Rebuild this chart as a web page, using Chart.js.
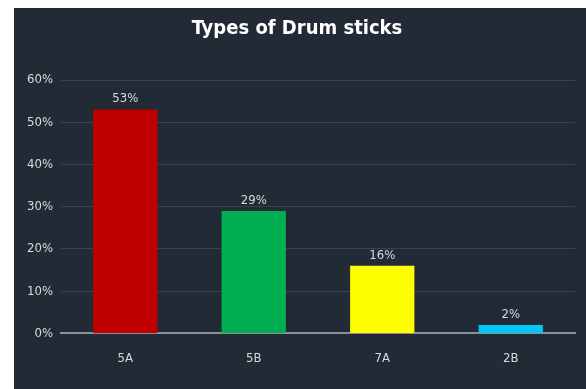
<!DOCTYPE html>
<html>
<head>
<meta charset="utf-8">
<script src="https://cdn.jsdelivr.net/npm/chart.js@4"></script>
<style>
  html, body { margin: 0; padding: 0; background: #ffffff; }
  #wrap {
    position: absolute;
    left: 14px;
    top: 8px;
    width: 572px;
    height: 381px;
    background: #222a35;
  }
</style>
</head>
<body>
<div id="wrap"><canvas id="drumChart"></canvas></div>
<script>
const stickTypes = ['5A', '5B', '7A', '2B'];
const shares = [53, 29, 16, 2];
const barColors = ['#c00000', '#00b050', '#ffff00', '#00c8f8'];
const yTicks = [0, 10, 20, 30, 40, 50, 60];

const narrow = "'Liberation Sans Narrow', 'DejaVu Sans Condensed', 'Open Sans', sans-serif";

// writes the percentage above each bar
const barValues = {
  id: 'barValues',
  afterDatasetsDraw(chart) {
    const ctx = chart.ctx;
    const meta = chart.getDatasetMeta(0);
    ctx.save();
    ctx.font = '13px ' + narrow;
    ctx.fillStyle = '#d9d9d9';
    ctx.textAlign = 'center';
    ctx.textBaseline = 'bottom';
    meta.data.forEach((bar, i) => {
      ctx.fillText(shares[i] + '%', bar.x, bar.y - 4);
    });
    ctx.restore();
  }
};

new Chart(document.getElementById('drumChart'), {
  type: 'bar',
  data: {
    labels: stickTypes,
    datasets: [{
      data: shares,
      backgroundColor: barColors,
      borderWidth: 0,
      categoryPercentage: 1,
      barPercentage: 0.5
    }]
  },
  options: {
    responsive: true,
    maintainAspectRatio: false,
    animation: false,
    layout: {
      padding: { left: 5, right: 11, top: 0, bottom: 14 }
    },
    plugins: {
      legend: { display: false },
      tooltip: { enabled: false },
      title: {
        display: true,
        text: 'Types of Drum sticks',
        color: '#ffffff',
        font: { family: narrow, size: 20, weight: 'bold' },
        padding: { top: 9, bottom: 39 }
      }
    },
    scales: {
      x: {
        grid: { display: false },
        border: { display: true, color: '#8c9096', width: 2 },
        ticks: {
          color: '#d9d9d9',
          font: { family: narrow, size: 13 },
          padding: 9
        }
      },
      y: {
        min: 0,
        max: 60,
        afterBuildTicks(scale) {
          scale.ticks = yTicks.map(v => ({ value: v }));
        },
        grid: { color: '#3a4250', lineWidth: 1, drawTicks: false },
        border: { display: false },
        ticks: {
          color: '#d9d9d9',
          font: { family: narrow, size: 13 },
          padding: 8,
          callback: v => v + '%'
        }
      }
    }
  },
  plugins: [barValues]
});
</script>
</body>
</html>
